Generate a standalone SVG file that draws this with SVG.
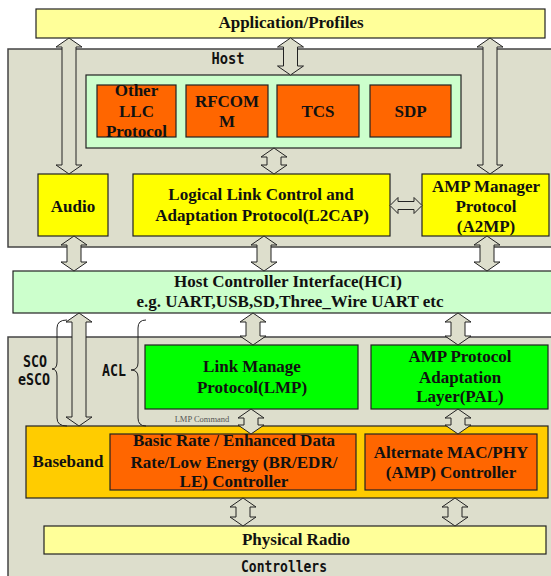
<svg xmlns="http://www.w3.org/2000/svg" width="551" height="576" viewBox="0 0 551 576">
  <style>
    .box { stroke: #222; stroke-width: 1.2; }
    .frame { fill: #DDDECC; stroke: #444; stroke-width: 1.5; }
    .pale { fill: #FFFF99; }
    .yel { fill: #FFFF00; }
    .org { fill: #FF6600; }
    .mint { fill: #CCFFCC; }
    .lime { fill: #00FF00; }
    .amber { fill: #FFCC00; }
    .t { font-family: "Liberation Serif", "Times New Roman", serif; font-weight: bold; font-size: 17px; fill: #111; text-anchor: middle; }
    .m { font-family: "DejaVu Sans Mono", "Liberation Mono", monospace; font-weight: bold; font-size: 16px; fill: #111; text-anchor: middle; }
    .small { font-family: "Liberation Serif", serif; font-size: 8.5px; fill: #555; text-anchor: middle; }
    .arr { fill: #DDDECC; stroke: #222; stroke-width: 1; }
    .brace { fill: none; stroke: #222; stroke-width: 1; }
  </style>

  <!-- large background regions -->
  <g id="host">
    <rect class="frame" x="8" y="49" width="560" height="198"/>
    <text class="m" x="228" y="64" textLength="33" lengthAdjust="spacingAndGlyphs">Host</text>
  </g>
  <g id="controllers">
    <rect class="frame" x="8" y="337" width="560" height="260"/>
    <text class="m" x="284" y="572" textLength="86" lengthAdjust="spacingAndGlyphs">Controllers</text>
  </g>

  <g id="app">
    <rect class="box pale" x="36" y="9" width="509" height="29"/>
    <text class="t" x="291" y="28">Application/Profiles</text>
  </g>

  <g id="upper-protocols">
    <rect class="box mint" x="86" y="75" width="375" height="73"/>
  </g>
  <g id="other-llc">
    <rect class="box org" x="97" y="85" width="79" height="52"/>
    <text class="t" x="136.5" y="96">Other</text>
    <text class="t" x="136.5" y="117">LLC</text>
    <text class="t" x="136.5" y="137">Protocol</text>
  </g>
  <g id="rfcomm">
    <rect class="box org" x="186" y="85" width="82" height="52"/>
    <text class="t" x="227" y="107">RFCOM</text>
    <text class="t" x="227" y="127">M</text>
  </g>
  <g id="tcs">
    <rect class="box org" x="277" y="85" width="82" height="52"/>
    <text class="t" x="318" y="117">TCS</text>
  </g>
  <g id="sdp">
    <rect class="box org" x="370" y="85" width="81" height="52"/>
    <text class="t" x="410.5" y="117">SDP</text>
  </g>

  <g id="audio">
    <rect class="box yel" x="38" y="174" width="70" height="62"/>
    <text class="t" x="73" y="212">Audio</text>
  </g>
  <g id="l2cap">
    <rect class="box yel" x="133" y="174" width="257" height="62"/>
    <text class="t" x="261" y="200">Logical Link Control and</text>
    <text class="t" x="262" y="221">Adaptation Protocol(L2CAP)</text>
  </g>
  <g id="a2mp">
    <rect class="box yel" x="422" y="174" width="127" height="62"/>
    <text class="t" x="486" y="192">AMP Manager</text>
    <text class="t" x="486" y="212">Protocol</text>
    <text class="t" x="486" y="232">(A2MP)</text>
  </g>

  <g id="hci">
    <rect class="box mint" x="13" y="271" width="560" height="42"/>
    <text class="t" x="288" y="287">Host Controller Interface(HCI)</text>
    <text class="t" x="290" y="307">e.g. UART,USB,SD,Three_Wire UART etc</text>
  </g>

  <g id="lmp">
    <rect class="box lime" x="145" y="345" width="213" height="64"/>
    <text class="t" x="252" y="372">Link Manage</text>
    <text class="t" x="252" y="393">Protocol(LMP)</text>
  </g>
  <g id="pal">
    <rect class="box lime" x="371" y="345" width="177" height="64"/>
    <text class="t" x="460" y="362">AMP Protocol</text>
    <text class="t" x="460" y="383">Adaptation</text>
    <text class="t" x="460" y="402">Layer(PAL)</text>
  </g>

  <g id="baseband">
    <rect class="box amber" x="26" y="426" width="522" height="72"/>
    <text class="t" x="68" y="467">Baseband</text>
  </g>
  <g id="bredr">
    <rect class="box org" x="110" y="434" width="246" height="56"/>
    <text class="t" x="234" y="446">Basic Rate / Enhanced Data</text>
    <text class="t" x="234" y="468">Rate/Low Energy (BR/EDR/</text>
    <text class="t" x="234" y="487">LE) Controller</text>
  </g>
  <g id="amp-controller">
    <rect class="box org" x="365" y="434" width="172" height="56"/>
    <text class="t" x="451" y="458">Alternate MAC/PHY</text>
    <text class="t" x="451" y="478">(AMP) Controller</text>
  </g>

  <g id="radio">
    <rect class="box pale" x="44" y="526" width="502" height="28"/>
    <text class="t" x="296" y="545">Physical Radio</text>
  </g>

  <!-- connectors: double-headed block arrows and link-type braces -->
  <g id="connectors">
    <polygon class="arr" points="69,38 82,47 76,47 76,165 82,165 69,174 56,165 62,165 62,47 56,47"/>
    <polygon class="arr" points="290.5,38 303.5,47 297.5,47 297.5,66 303.5,66 290.5,75 277.5,66 283.5,66 283.5,47 277.5,47"/>
    <polygon class="arr" points="490,38 503,47 497,47 497,165 503,165 490,174 477,165 483,165 483,47 477,47"/>
    <polygon class="arr" points="274,148 287,157 281,157 281,165 287,165 274,174 261,165 267,165 267,157 261,157"/>
    <polygon class="arr" points="74,236 87,245 81,245 81,262 87,262 74,271 61,262 67,262 67,245 61,245"/>
    <polygon class="arr" points="264,236 277,245 271,245 271,262 277,262 264,271 251,262 257,262 257,245 251,245"/>
    <polygon class="arr" points="487,236 500,245 494,245 494,262 500,262 487,271 474,262 480,262 480,245 474,245"/>
    <polygon class="arr" points="390,205.5 398,197.5 398,201.5 414,201.5 414,197.5 422,205.5 414,213.5 414,209.5 398,209.5 398,213.5"/>
    <polygon class="arr" points="79,313 92,322 86,322 86,417 92,417 79,426 66,417 72,417 72,322 66,322"/>
    <polygon class="arr" points="253,313 266,322 260,322 260,336 266,336 253,345 240,336 246,336 246,322 240,322"/>
    <polygon class="arr" points="458,313 471,322 465,322 465,336 471,336 458,345 445,336 451,336 451,322 445,322"/>
    <polygon class="arr" points="251,409 264,418 258,418 258,425 264,425 251,434 238,425 244,425 244,418 238,418"/>
    <polygon class="arr" points="458,409 471,418 465,418 465,425 471,425 458,434 445,425 451,425 451,418 445,418"/>
    <polygon class="arr" points="243,498 256,507 250,507 250,517 256,517 243,526 230,517 236,517 236,507 230,507"/>
    <polygon class="arr" points="455,498 468,507 462,507 462,517 468,517 455,526 442,517 448,517 448,507 442,507"/>

    <path class="brace" d="M67,320 Q57,320 57,328 L57,362 Q57,369 52,369 Q57,369 57,376 L57,418 Q57,426 67,426"/>
    <path class="brace" d="M146,320 Q138,320 138,328 L138,363 Q138,370 131,370 Q138,370 138,377 L138,418 Q138,426 146,426"/>
    <text class="m" x="35" y="367" textLength="24" lengthAdjust="spacingAndGlyphs">SCO</text>
    <text class="m" x="34" y="385" textLength="32" lengthAdjust="spacingAndGlyphs">eSCO</text>
    <text class="m" x="114" y="376" textLength="24" lengthAdjust="spacingAndGlyphs">ACL</text>
    <text class="small" x="202" y="422">LMP Command</text>
  </g>
</svg>
